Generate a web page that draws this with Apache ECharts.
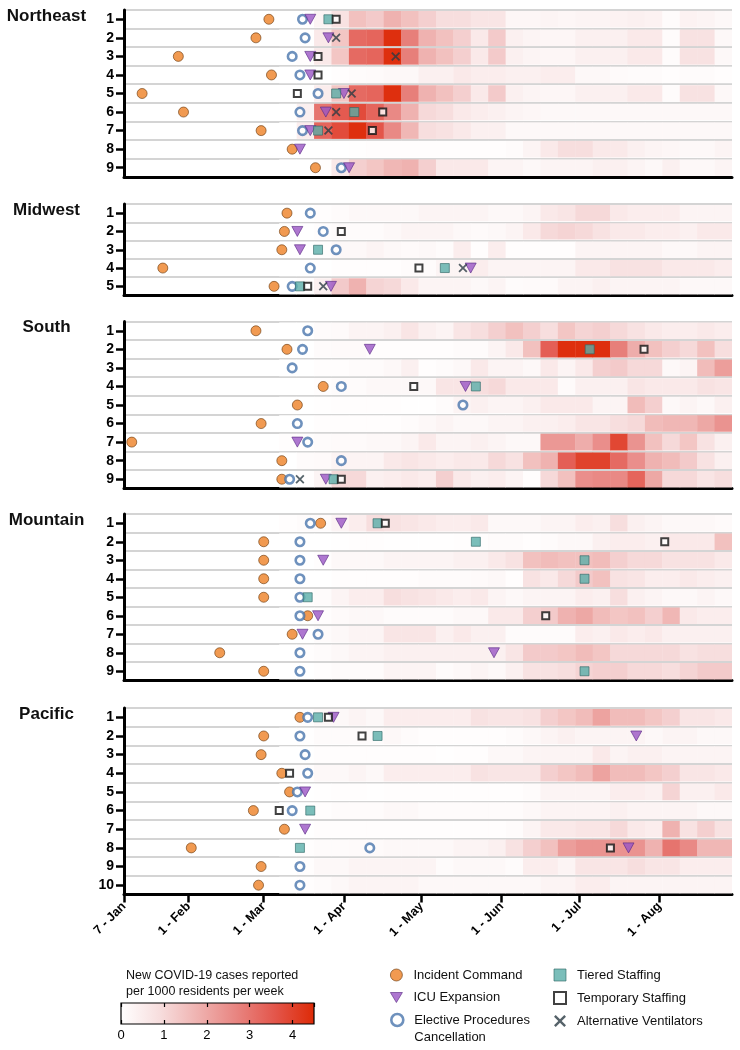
<!DOCTYPE html>
<html><head><meta charset="utf-8">
<script src="https://cdn.jsdelivr.net/npm/echarts@6/dist/echarts.min.js"></script>
<style>html,body{margin:0;padding:0;background:#fff}#c{width:740px;height:1050px}</style>
</head><body><div id="c"></div><script>
// ---------------- DATA ----------------
const PANEL_NAMES = ['Northeast', 'Midwest', 'South', 'Mountain', 'Pacific'];
const TICK_DATES = ['2020-01-07','2020-02-01','2020-03-01','2020-04-01','2020-05-01','2020-06-01','2020-07-01','2020-08-01'];
const TICK_LABELS = ['7 - Jan','1 - Feb','1 - Mar','1 - Apr','1 - May','1 - Jun','1 - Jul','1 - Aug'];
const AXIS_START = '2020-01-07', AXIS_END = '2020-08-29';
const HEAT_START = '2020-03-07', HEAT_END = '2020-08-29'; // 26 equal columns

// weekly new cases per 1000 residents, one array per row (26 columns)
const HEAT_NE = [
 [0,0,0.3,0.8,1.5, 1.3,1.8,1.5,1.2,0.9,0.9,0.7,0.7,0.25,0.25,0.3,0.25,0.3,0.3,0.35,0.4,0.35,0.1,0.35,0.3,0.2],
 [0,0,0.6,1.4,3.2, 3.3,4.4,2.8,1.8,1.5,1.2,0.6,1.3,0.4,0.3,0.25,0.25,0.4,0.4,0.4,0.6,0.6,0.1,0.8,0.8,0.2],
 [0,0.05,0.6,1.4,3.2, 3.3,4.4,2.8,1.8,1.5,1.2,0.6,1.3,0.4,0.3,0.25,0.25,0.4,0.4,0.4,0.6,0.6,0.1,0.8,0.8,0.2],
 [0,0,0,0.05,0.1, 0.15,0.2,0.2,0.4,0.4,0.6,0.5,0.5,0.4,0.4,0.5,0.5,0.2,0.2,0.15,0.1,0.1,0.05,0.1,0.1,0.05],
 [0,0,0.5,1.4,3.2, 3.3,4.4,2.8,1.8,1.5,1.2,0.6,1.3,0.4,0.3,0.25,0.25,0.4,0.4,0.4,0.6,0.6,0.1,0.8,0.8,0.2],
 [0,0.4,3.0,3.5,3.8, 3.3,2.6,1.8,1.0,0.9,0.6,0.5,0.4,0.3,0.25,0.2,0.2,0.2,0.2,0.2,0.2,0.2,0.2,0.2,0.2,0.2],
 [0,0.5,3.3,3.8,4.4, 3.6,2.6,1.7,0.9,0.8,0.6,0.4,0.4,0.2,0.2,0.2,0.2,0.2,0.2,0.2,0.2,0.2,0.2,0.2,0.2,0.2],
 [0,0,0,0,0.02, 0.05,0.05,0.05,0.05,0.05,0.05,0.05,0.05,0.1,0.3,0.6,0.9,0.9,0.6,0.6,0.4,0.3,0.25,0.2,0.2,0.3],
 [0,0,0.05,0.6,1.2, 1.4,1.7,1.8,1.2,0.6,0.6,0.6,0.3,0.3,0.2,0.3,0.3,0.3,0.4,0.4,0.3,0.2,0.4,0.2,0.2,0.3]
];
const HEAT_MW = [
 [0,0,0.05,0.1,0.2, 0.2,0.2,0.2,0.3,0.3,0.3,0.3,0.2,0.2,0.3,0.6,0.7,1.0,1.0,0.6,0.5,0.5,0.5,0.3,0.3,0.3],
 [0,0,0.05,0.1,0.1, 0.1,0.2,0.3,0.3,0.3,0.2,0.15,0.2,0.3,0.6,1.0,1.1,1.0,0.8,0.6,0.6,0.5,0.5,0.4,0.6,0.6],
 [0,0,0.05,0.2,0.2, 0.3,0.2,0.15,0.2,0.1,0.5,0.05,0.5,0.05,0.05,0.05,0.05,0.3,0.3,0.3,0.3,0.3,0.2,0.2,0.3,0.3],
 [0,0,0,0.05,0.05, 0.05,0.05,0.1,0.1,0.3,0.3,0.5,0.3,0.3,0.3,0.3,0.3,0.6,0.6,0.8,0.8,0.8,0.6,0.6,0.6,0.5],
 [0,0.05,0.4,1.3,1.8, 1.1,1.0,0.6,0.3,0.3,0.3,0.2,0.3,0.1,0.15,0.15,0.3,0.3,0.4,0.3,0.3,0.3,0.3,0.2,0.2,0.2]
];
const HEAT_S = [
 [0,0,0.1,0.15,0.3, 0.3,0.4,0.7,0.4,0.3,0.7,0.9,1.2,1.5,1.2,0.9,1.4,1.1,1.2,1.0,0.8,0.6,0.5,0.5,0.6,0.5],
 [0,0,0.1,0.15,0.15, 0.05,0.05,0.05,0.05,0.05,0.1,0.1,0.3,0.6,1.5,3.4,4.4,4.4,4.4,2.8,1.9,1.5,1.2,1.0,1.5,0.9],
 [0,0,0.05,0.05,0.1, 0.1,0.2,0.4,0.05,0.1,0.2,0.6,0.3,0.3,0.2,0.6,0.3,0.6,1.2,1.3,1.0,1.0,0.2,0.3,1.6,2.2],
 [0,0,0.05,0.1,0.1, 0.2,0.2,0.2,0.2,0.7,0.7,0.9,1.0,0.6,0.6,0.6,0.15,0.4,0.4,0.4,0.7,0.6,0.6,0.6,0.8,0.7],
 [0,0,0.02,0.05,0.05, 0.05,0.05,0.02,0.02,0.1,0.3,0.4,0.3,0.3,0.4,0.6,0.6,0.6,0.3,0.3,1.6,1.2,0.2,0.3,0.2,0.4],
 [0,0,0.05,0.05,0.05, 0.05,0.05,0.1,0.2,0.3,0.2,0.2,0.3,0.3,0.4,0.4,0.5,0.7,0.7,0.9,1.0,1.6,1.7,1.7,2.0,2.4],
 [0.05,0.05,0.1,0.15,0.15, 0.2,0.2,0.3,0.6,0.3,0.3,0.4,0.3,0.2,0.2,2.3,2.3,1.9,2.5,3.9,2.4,1.5,1.0,1.4,0.8,0.4],
 [0,0.1,0.15,0.3,0.3, 0.3,0.6,0.7,0.6,0.5,0.6,0.6,1.0,0.8,1.5,1.8,3.4,4.0,4.0,3.2,2.5,1.8,1.6,1.3,0.8,0.4],
 [0,0.05,0.3,1.0,1.0, 0.4,0.5,0.6,0.5,1.2,0.6,0.4,0.5,0.3,0.05,1.0,1.5,2.5,2.6,2.6,3.3,2.0,1.0,1.0,0.7,0.9]
];
const HEAT_MTN = [
 [0.05,0.1,0.1,0.3,0.5, 0.9,0.8,0.7,0.6,0.5,0.5,0.6,0.2,0.2,0.2,0.3,0.3,0.5,0.4,0.9,0.4,0.3,0.2,0.2,0.2,0.15],
 [0,0,0,0.02,0.05, 0.05,0.02,0.02,0.02,0.02,0.05,0.05,0.1,0.1,0.05,0.1,0.2,0.2,0.4,0.5,0.5,0.4,0.6,0.6,0.6,1.5],
 [0,0,0.05,0.2,0.2, 0.2,0.3,0.3,0.3,0.3,0.4,0.4,0.6,0.8,1.5,1.6,1.5,1.5,1.6,1.2,1.0,1.0,0.8,0.8,0.8,0.6],
 [0,0,0,0.05,0.05, 0.05,0.05,0.05,0.1,0.1,0.1,0.15,0.2,0.05,0.8,0.6,1.0,1.3,1.5,0.8,0.7,0.5,0.5,0.6,0.5,0.4],
 [0,0.05,0.1,0.3,0.5, 0.5,0.9,0.8,0.7,0.6,0.5,0.6,0.3,0.2,0.3,0.3,0.3,0.5,0.4,0.9,0.4,0.3,0.2,0.2,0.3,0.2],
 [0,0,0.05,0.15,0.2, 0.2,0.1,0.1,0.1,0.1,0.2,0.2,0.6,0.6,1.2,1.3,1.8,2.0,1.6,1.4,1.5,1.2,1.7,0.6,0.5,0.5],
 [0,0,0.1,0.2,0.3, 0.3,0.7,0.7,0.7,0.4,0.6,0.4,0.4,0.1,0.1,0.1,0.1,0.5,0.4,0.6,0.5,0.6,0.4,0.4,0.4,0.4],
 [0,0.05,0.1,0.2,0.3, 0.3,0.4,0.4,0.4,0.4,0.4,0.4,0.4,0.7,1.3,1.3,1.4,1.6,1.4,1.0,1.0,1.0,1.0,0.8,0.9,0.9],
 [0,0,0.05,0.1,0.1, 0.1,0.3,0.3,0.3,0.1,0.2,0.3,0.2,0.4,0.8,0.8,0.9,1.1,1.2,1.2,1.0,1.0,0.9,1.1,1.3,1.3]
];
const HEAT_PAC = [
 [0,0.05,0.2,0.2,0.3, 0.2,0.5,0.5,0.5,0.5,0.5,0.8,0.7,0.7,0.8,1.2,1.4,1.6,2.1,1.6,1.6,1.4,1.2,0.7,0.7,0.6],
 [0,0.02,0.1,0.1,0.1, 0.1,0.2,0.1,0.05,0.05,0.05,0.05,0.05,0.1,0.2,0.3,0.4,0.3,0.3,0.3,0.3,0.2,0.3,0.3,0.2,0.2],
 [0,0,0.05,0.05,0.05, 0.05,0.05,0.05,0.05,0.02,0.05,0.05,0.2,0.2,0.3,0.3,0.3,0.3,0.6,0.3,0.4,0.4,0.3,0.3,0.3,0.3],
 [0,0.05,0.2,0.2,0.3, 0.2,0.5,0.5,0.5,0.5,0.5,0.8,0.7,0.7,0.7,1.2,1.4,1.6,2.1,1.6,1.6,1.4,1.2,0.7,0.7,0.6],
 [0,0,0.02,0.05,0.05, 0.02,0.05,0.05,0.05,0.05,0.05,0.05,0.05,0.05,0.1,0.3,0.3,0.3,0.3,0.5,0.5,0.4,1.1,0.4,0.4,0.6],
 [0,0,0.05,0.1,0.1, 0.1,0.2,0.2,0.1,0.1,0.1,0.1,0.1,0.1,0.2,0.3,0.3,0.3,0.3,0.4,0.3,0.3,0.3,0.3,0.2,0.2],
 [0,0,0.05,0.05,0.05, 0.05,0.05,0.05,0.05,0.05,0.05,0.05,0.05,0.1,0.3,0.6,0.6,0.7,0.7,1.0,0.6,0.5,1.8,0.8,1.2,0.8],
 [0,0.05,0.1,0.1,0.15, 0.15,0.2,0.2,0.2,0.2,0.3,0.3,0.4,0.8,1.2,1.5,2.2,2.4,2.4,2.4,2.4,1.8,3.0,2.6,1.7,1.7],
 [0,0.05,0.2,0.2,0.3, 0.3,0.3,0.3,0.3,0.1,0.2,0.2,0.2,0.1,0.5,0.5,0.3,0.7,0.7,0.7,0.9,0.7,0.7,0.5,0.5,0.5],
 [0,0.05,0.1,0.2,0.3, 0.3,0.3,0.3,0.2,0.2,0.2,0.2,0.2,0.2,0.2,0.3,0.3,0.5,0.5,0.3,0.3,0.3,0.3,0.3,0.3,0.3]
];

// events: [row, type, date]; IC incident command, ICU expansion, EP elective cancellation,
// TS tiered staffing, TMP temporary staffing, AV alternative ventilators
const EV_NE = [
 [1,'IC','2020-03-03'],[1,'EP','2020-03-16'],[1,'ICU','2020-03-19'],[1,'TS','2020-03-26'],[1,'TMP','2020-03-29'],
 [2,'IC','2020-02-27'],[2,'EP','2020-03-17'],[2,'ICU','2020-03-26'],[2,'AV','2020-03-29'],
 [3,'IC','2020-01-28'],[3,'EP','2020-03-12'],[3,'ICU','2020-03-19'],[3,'TMP','2020-03-22'],[3,'AV','2020-04-21'],
 [4,'IC','2020-03-04'],[4,'EP','2020-03-15'],[4,'ICU','2020-03-19'],[4,'TMP','2020-03-22'],
 [5,'IC','2020-01-14'],[5,'TMP','2020-03-14'],[5,'EP','2020-03-22'],[5,'TS','2020-03-29'],[5,'ICU','2020-04-01'],[5,'AV','2020-04-04'],
 [6,'IC','2020-01-30'],[6,'EP','2020-03-15'],[6,'ICU','2020-03-25'],[6,'AV','2020-03-29'],[6,'TS','2020-04-05'],[6,'TMP','2020-04-16'],
 [7,'IC','2020-02-29'],[7,'EP','2020-03-16'],[7,'ICU','2020-03-19'],[7,'TS','2020-03-22'],[7,'AV','2020-03-26'],[7,'TMP','2020-04-12'],
 [8,'IC','2020-03-12'],[8,'ICU','2020-03-15'],
 [9,'IC','2020-03-21'],[9,'EP','2020-03-31'],[9,'ICU','2020-04-03']
];
const EV_MW = [
 [1,'IC','2020-03-10'],[1,'EP','2020-03-19'],
 [2,'IC','2020-03-09'],[2,'ICU','2020-03-14'],[2,'EP','2020-03-24'],[2,'TMP','2020-03-31'],
 [3,'IC','2020-03-08'],[3,'ICU','2020-03-15'],[3,'TS','2020-03-22'],[3,'EP','2020-03-29'],
 [4,'IC','2020-01-22'],[4,'EP','2020-03-19'],[4,'TMP','2020-04-30'],[4,'TS','2020-05-10'],[4,'AV','2020-05-17'],[4,'ICU','2020-05-20'],
 [5,'IC','2020-03-05'],[5,'EP','2020-03-12'],[5,'TS','2020-03-15'],[5,'TMP','2020-03-18'],[5,'AV','2020-03-24'],[5,'ICU','2020-03-27']
];
const EV_S = [
 [1,'IC','2020-02-27'],[1,'EP','2020-03-18'],
 [2,'IC','2020-03-10'],[2,'EP','2020-03-16'],[2,'ICU','2020-04-11'],[2,'TS','2020-07-05'],[2,'TMP','2020-07-26'],
 [3,'EP','2020-03-12'],
 [4,'IC','2020-03-24'],[4,'EP','2020-03-31'],[4,'TMP','2020-04-28'],[4,'ICU','2020-05-18'],[4,'TS','2020-05-22'],
 [5,'IC','2020-03-14'],[5,'EP','2020-05-17'],
 [6,'IC','2020-02-29'],[6,'EP','2020-03-14'],
 [7,'IC','2020-01-10'],[7,'ICU','2020-03-14'],[7,'EP','2020-03-18'],
 [8,'IC','2020-03-08'],[8,'EP','2020-03-31'],
 [9,'IC','2020-03-08'],[9,'EP','2020-03-11'],[9,'AV','2020-03-15'],[9,'ICU','2020-03-25'],[9,'TS','2020-03-28'],[9,'TMP','2020-03-31']
];
const EV_MTN = [
 [1,'EP','2020-03-19'],[1,'IC','2020-03-23'],[1,'ICU','2020-03-31'],[1,'TS','2020-04-14'],[1,'TMP','2020-04-17'],
 [2,'IC','2020-03-01'],[2,'EP','2020-03-15'],[2,'TS','2020-05-22'],[2,'TMP','2020-08-03'],
 [3,'IC','2020-03-01'],[3,'EP','2020-03-15'],[3,'ICU','2020-03-24'],[3,'TS','2020-07-03'],
 [4,'IC','2020-03-01'],[4,'EP','2020-03-15'],[4,'TS','2020-07-03'],
 [5,'IC','2020-03-01'],[5,'EP','2020-03-15'],[5,'TS','2020-03-18'],
 [6,'EP','2020-03-15'],[6,'IC','2020-03-18'],[6,'ICU','2020-03-22'],[6,'TMP','2020-06-18'],
 [7,'IC','2020-03-12'],[7,'ICU','2020-03-16'],[7,'EP','2020-03-22'],
 [8,'IC','2020-02-13'],[8,'EP','2020-03-15'],[8,'ICU','2020-05-29'],
 [9,'IC','2020-03-01'],[9,'EP','2020-03-15'],[9,'TS','2020-07-03']
];
const EV_PAC = [
 [1,'IC','2020-03-15'],[1,'EP','2020-03-18'],[1,'TS','2020-03-22'],[1,'TMP','2020-03-26'],[1,'ICU','2020-03-28'],
 [2,'IC','2020-03-01'],[2,'EP','2020-03-15'],[2,'TMP','2020-04-08'],[2,'TS','2020-04-14'],[2,'ICU','2020-07-23'],
 [3,'IC','2020-02-29'],[3,'EP','2020-03-17'],
 [4,'IC','2020-03-08'],[4,'TMP','2020-03-11'],[4,'EP','2020-03-18'],
 [5,'IC','2020-03-11'],[5,'EP','2020-03-14'],[5,'ICU','2020-03-17'],
 [6,'IC','2020-02-26'],[6,'TMP','2020-03-07'],[6,'EP','2020-03-12'],[6,'TS','2020-03-19'],
 [7,'IC','2020-03-09'],[7,'ICU','2020-03-17'],
 [8,'IC','2020-02-02'],[8,'TS','2020-03-15'],[8,'EP','2020-04-11'],[8,'TMP','2020-07-13'],[8,'ICU','2020-07-20'],
 [9,'IC','2020-02-29'],[9,'EP','2020-03-15'],
 [10,'IC','2020-02-28'],[10,'EP','2020-03-15']
];

const HEATS = [HEAT_NE, HEAT_MW, HEAT_S, HEAT_MTN, HEAT_PAC];
const EVENTS = [EV_NE, EV_MW, EV_S, EV_MTN, EV_PAC];

// ---------------- STYLE / LAYOUT ----------------
const FONT = 'Liberation Sans, Arial, Helvetica, sans-serif';
const GRID_POS = [
  {top: 10, height: 167},
  {top: 204, height: 91.5},
  {top: 321.5, height: 167},
  {top: 514, height: 166.5},
  {top: 708, height: 186.5}
];
const HEAT_COLORS = ['#ffffff', '#f7dede', '#efb2b0', '#e88480', '#e3554a', '#dd2a06'];
const TYPES = [
  {key: 'IC', name: 'Incident Command', symbol: 'circle', size: 10,
   style: {color: '#ED8125', borderColor: '#6b3a0e', borderWidth: 0.8}},
  {key: 'EP', name: 'Elective Procedures\nCancellation', symbol: 'circle', size: 8.5,
   style: {color: '#ffffff', borderColor: '#4A76AC', borderWidth: 2.6}},
  {key: 'ICU', name: 'ICU Expansion', symbol: 'path://M0,0L12,0L6,10Z', size: [11, 10],
   style: {color: '#9A55C4', borderColor: '#5a2a85', borderWidth: 0.8}},
  {key: 'TS', name: 'Tiered Staffing', symbol: 'rect', size: 9,
   style: {color: '#5AAEA9', borderColor: '#2f6866', borderWidth: 0.8}},
  {key: 'TMP', name: 'Temporary Staffing', symbol: 'rect', size: 7,
   style: {color: '#ffffff', borderColor: '#111111', borderWidth: 2}},
  {key: 'AV', name: 'Alternative Ventilators',
   symbol: 'path://M0,1.4L1.4,0L5,3.6L8.6,0L10,1.4L6.4,5L10,8.6L8.6,10L5,6.4L1.4,10L0,8.6L3.6,5Z', size: 9,
   style: {color: '#2a3b44'}}
];

// dates -> days since 7 Jan 2020
const DAY0 = Date.UTC(2020, 0, 7);
function t(s) { const p = s.split('-').map(Number); return (Date.UTC(p[0], p[1] - 1, p[2]) - DAY0) / 864e5; }
const TICK_VALUES = TICK_DATES.map(t);
const H0 = t(HEAT_START), H1 = t(HEAT_END);

const option = {
  animation: false,
  textStyle: {fontFamily: FONT},
  grid: [], xAxis: [], yAxis: [], series: [], graphic: []
};

GRID_POS.forEach((g, i) => {
  const nRows = HEATS[i].length;
  const last = i === GRID_POS.length - 1;
  option.grid.push({left: 124, right: 8, top: g.top, height: g.height});
  option.xAxis.push({
    type: 'value', gridIndex: i, min: t(AXIS_START), max: t(AXIS_END),
    axisLine: {show: true, lineStyle: {color: '#000', width: 3}},
    splitLine: {show: false},
    axisTick: {show: last, customValues: TICK_VALUES, length: 8, lineStyle: {color: '#000', width: 2.5}},
    axisLabel: {show: last, customValues: TICK_VALUES, rotate: 45, margin: 10,
      fontSize: 12.5, fontWeight: 'bold', color: '#000', fontFamily: FONT,
      formatter: v => { const k = TICK_VALUES.indexOf(v); return k >= 0 ? TICK_LABELS[k] : ''; }}
  });
  option.yAxis.push({
    type: 'category', gridIndex: i, inverse: true,
    data: Array.from({length: nRows}, (_, r) => String(r + 1)),
    axisLine: {show: true, lineStyle: {color: '#000', width: 3}},
    axisTick: {show: true, alignWithLabel: true, interval: 0, length: 8, lineStyle: {color: '#000', width: 2.5}},
    axisLabel: {interval: 0, fontSize: 14, fontWeight: 'bold', color: '#000', margin: 10, fontFamily: FONT},
    splitLine: {show: true, interval: 0, lineStyle: {color: '#c6c6c6', width: 1.5}}
  });
  // heatmap cells
  const step = (H1 - H0) / HEATS[i][0].length;
  const cells = [];
  HEATS[i].forEach((row, r) => row.forEach((v, c) => cells.push([H0 + c * step, r, v, H0 + (c + 1) * step])));
  option.series.push({
    type: 'custom', name: 'heat' + i, xAxisIndex: i, yAxisIndex: i, clip: true, z: 1,
    encode: {x: [0, 3], y: 1}, data: cells,
    renderItem: (params, api) => {
      const p0 = api.coord([api.value(0), api.value(1)]);
      const p1 = api.coord([api.value(3), api.value(1)]);
      const h = api.size([0, 1])[1];
      return {type: 'rect',
        shape: {x: p0[0], y: p0[1] - h / 2 + 1, width: p1[0] - p0[0] + 0.4, height: h - 2},
        style: {fill: api.visual('color')}};
    }
  });
  // event markers
  TYPES.forEach(tp => {
    option.series.push({
      type: 'scatter', name: tp.name, xAxisIndex: i, yAxisIndex: i, z: 5,
      symbol: tp.symbol, symbolSize: tp.size, itemStyle: tp.style,
      data: EVENTS[i].filter(e => e[1] === tp.key).map(e => [t(e[2]), e[0] - 1])
    });
  });
  option.graphic.push({type: 'text', x: 46.5, y: g.top + 6,
    style: {text: PANEL_NAMES[i], font: 'bold 17px ' + FONT, fill: '#111', align: 'center', verticalAlign: 'middle'}});
});

// colour bar (grid 5)
const CB = 5;
option.grid.push({left: 121, width: 193, top: 1003, height: 21, show: true, borderColor: '#000', borderWidth: 1.2,
  backgroundColor: {type: 'linear', x: 0, y: 0, x2: 1, y2: 0,
    colorStops: HEAT_COLORS.map((c, k) => ({offset: k / (HEAT_COLORS.length - 1), color: c}))}});
option.xAxis.push({type: 'value', gridIndex: CB, min: 0, max: 4.5, interval: 1, position: 'bottom',
  axisLine: {show: false}, splitLine: {show: false},
  axisTick: {show: true, inside: true, length: 4, lineStyle: {color: '#000', width: 1.2}},
  axisLabel: {fontSize: 13, color: '#000', margin: 5, showMaxLabel: false}});
option.xAxis.push({type: 'value', gridIndex: CB, min: 0, max: 4.5, interval: 1, position: 'top',
  axisLine: {show: false}, splitLine: {show: false}, axisLabel: {show: false},
  axisTick: {show: true, inside: true, length: 4, lineStyle: {color: '#000', width: 1.2}}});
option.yAxis.push({type: 'value', gridIndex: CB, show: false, min: 0, max: 1});
option.graphic.push({type: 'text', x: 126, y: 968,
  style: {text: 'New COVID-19 cases reported\nper 1000 residents per week', font: '12.5px ' + FONT,
    fill: '#111', lineHeight: 15.5}});

option.visualMap = {type: 'continuous', show: false, min: 0, max: 4.5, dimension: 2,
  seriesIndex: [0, 7, 14, 21, 28], inRange: {color: HEAT_COLORS}};

const legendCommon = {orient: 'vertical', itemWidth: 12, itemHeight: 12, itemGap: 9.5,
  selectedMode: false, itemStyle: {borderWidth: 'inherit'}, padding: 0,
  textStyle: {fontSize: 13, color: '#111', fontFamily: FONT, padding: [0, 0, 0, 6]}};
option.legend = [
  Object.assign({}, legendCommon, {left: 390, top: 968.5, data: ['Incident Command', 'ICU Expansion']}),
  // two-line item: a leading blank line keeps the symbol level with the first text line
  Object.assign({}, legendCommon, {left: 390, top: 994.5, data: ['Elective Procedures\nCancellation'],
    formatter: n => '\n' + n, textStyle: Object.assign({}, legendCommon.textStyle, {lineHeight: 17})}),
  Object.assign({}, legendCommon, {left: 553, top: 968.5, data: ['Tiered Staffing', 'Temporary Staffing', 'Alternative Ventilators']})
];

const chart = echarts.init(document.getElementById('c'), null, {renderer: 'canvas'});
chart.setOption(option);
</script></body></html>
